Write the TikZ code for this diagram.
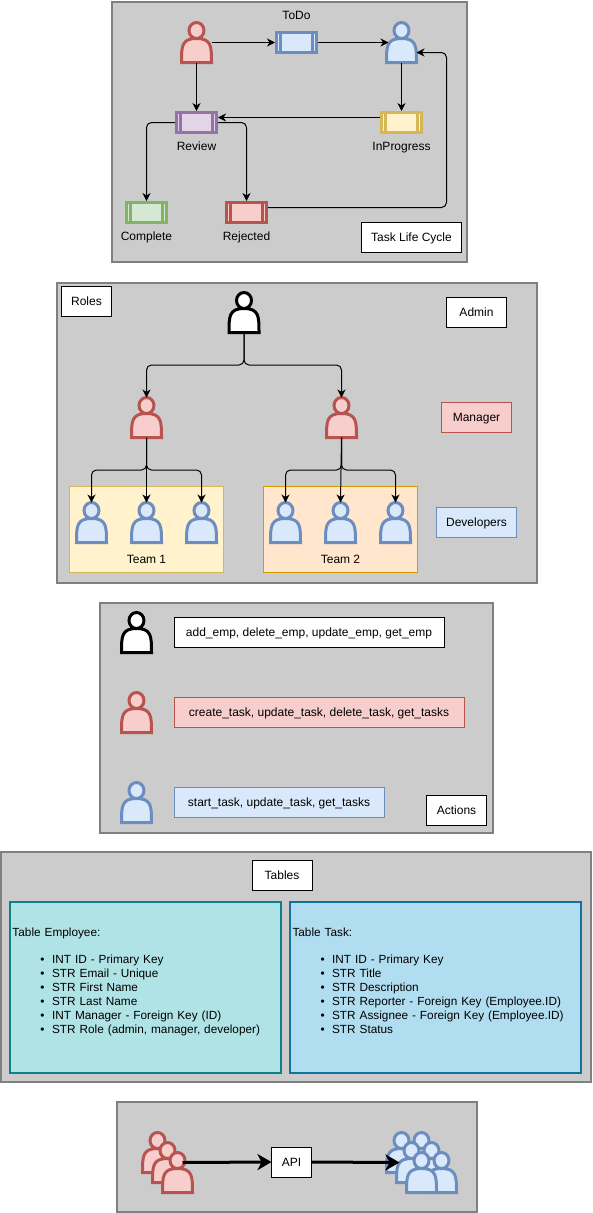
\documentclass[tikz,border=0pt]{standalone}
\usepackage{fontspec}
\setmainfont{Liberation Sans}
\usetikzlibrary{arrows.meta,positioning,calc}
\definecolor{redfill}{HTML}{F8CECC}
\definecolor{redline}{HTML}{B85450}
\definecolor{bluefill}{HTML}{DAE8FC}
\definecolor{blueline}{HTML}{6C8EBF}
\definecolor{greenfill}{HTML}{D5E8D4}
\definecolor{greenline}{HTML}{82B366}
\definecolor{purplefill}{HTML}{E1D5E7}
\definecolor{purpleline}{HTML}{9673A6}
\definecolor{yellowfill}{HTML}{FFF2CC}
\definecolor{yellowline}{HTML}{D6B656}
\definecolor{orangefill}{HTML}{FFE6CC}
\definecolor{orangeline}{HTML}{D79B00}
\definecolor{tealfill}{HTML}{B0E3E6}
\definecolor{tealline}{HTML}{0E8088}
\definecolor{skyfill}{HTML}{B1DDF0}
\definecolor{skyline}{HTML}{10739E}
\newcommand{\tableitem}[1]{\hspace*{28pt}\textbullet\hspace{7.5pt}#1}
\tikzset{
    %Define standard arrow tip
    >={Stealth[length=8pt,width=8pt,inset=2.5pt]},
    every node/.style={font=\fontsize{12}{14}\selectfont,inner sep=0pt,outer sep=0pt},
    %Define style for boxes
    panel/.style={
           draw=black!50,
           line width=2pt,
           fill=black!20},
    caption/.style={
           text height=11pt,
           text depth=2.4pt},
    labelbox/.style={
           caption,
           draw=black,
           line width=1pt,
           fill=white,
           minimum height=30pt},
    redbox/.style={labelbox,draw=redline,fill=redfill},
    bluebox/.style={labelbox,draw=blueline,fill=bluefill},
    team/.style={
           line width=1pt,
           minimum width=154pt,
           minimum height=86pt},
    tablebox/.style={
           font=\fontsize{11.8}{14}\selectfont,
           line width=2pt,
           minimum width=#1,
           text width=#1-5pt,
           minimum height=171pt,
           inner xsep=2.5pt,
           align=left},
    %Define task with side bars
    process/.style 2 args={
           draw=#1,
           fill=#2,
           line width=3pt,
           outer sep=1.5pt,
           minimum width=40pt,
           minimum height=20pt,
           path picture={
             \draw[#1,line width=3pt]
               ([xshift=4.1pt]path picture bounding box.north west) -- ([xshift=4.1pt]path picture bounding box.south west)
               ([xshift=-4.1pt]path picture bounding box.north east) -- ([xshift=-4.1pt]path picture bounding box.south east);
           }},
    %Define person
    actor/.style 2 args={
           minimum width=30pt,
           minimum height=40pt,
           append after command={\pgfextra{
             \draw[shift={(\tikzlastnode.center)},draw=#1,fill=#2,line width=3pt]
               (-15,20) .. controls (-15,4) and (-15,-4) .. (0,-4)
               .. controls (15,-4) and (15,4) .. (15,20) -- cycle
               (7.5,-12) arc[start angle=0,end angle=360,x radius=7.5pt,y radius=8pt];
           }}},
    admin/.style={actor={black}{white}},
    manager/.style={actor={redline}{redfill}},
    developer/.style={actor={blueline}{bluefill}},
    % Define arrow style
    flow/.style={
           ->,
           line width=1pt,
           rounded corners=5pt},
    bigflow/.style={
           -{Stealth[length=14pt,width=16pt,inset=4pt]},
           line width=3pt},
    branch/.style={
           to path={|- ($(\tikztostart)!.5!(\tikztotarget)$) -| (\tikztotarget)}}
}
\begin{document}
\begin{tikzpicture}[x=1pt,y=-1pt,node distance=5pt]
\useasboundingbox (0,0) rectangle (592,1213);
 %life cycle
\node[panel,minimum width=355pt,minimum height=260pt](lifepanel) at (289,132){};
\node[manager](reporter) at (196.5,42.5){};
\node[developer](assignee) at (401.5,42.5){};
\node[process={blueline}{bluefill}](todo) at (296.5,42.5){};
\node[process={purpleline}{purplefill}](review) at (196.5,122.5){};
\node[process={yellowline}{yellowfill}](inprogress) at (401.5,122.5){};
\node[process={greenline}{greenfill}](complete) at (146.5,212.5){};
\node[process={redline}{redfill}](rejected) at (246.5,212.5){};
\node[caption,above=9.6pt of todo](todolabel){ToDo};
\node[caption,below=of review](reviewlabel){Review};
\node[caption,below=of inprogress](inprogresslabel){InProgress};
\node[caption,below=of complete](completelabel){Complete};
\node[caption,below=of rejected](rejectedlabel){Rejected};
\node[labelbox,minimum width=100pt](lifelabel) at (411.5,237){Task Life Cycle};
\coordinate (back) at (446.5,52.5);
\path[flow]
    (reporter.east) edge (todo.west)
    (todo.east) edge ([xshift=2pt]assignee.west)
    (assignee.south) edge (inprogress.north)
    (reporter.south) edge (review.north)
    ([yshift=5pt]inprogress.west) edge ([yshift=5pt]review.east);
\draw[flow] (review.west) -| (complete.north);
\draw[flow] (review.east) -| (rejected.north);
\draw[flow] ([yshift=5pt]rejected.east) -| (back) -- ([yshift=-10pt]assignee.east);
 %roles
\node[panel,minimum width=480pt,minimum height=300pt](rolepanel) at (296.5,432.5){};
\node[labelbox,minimum width=50pt](roleslabel) at (86.5,301.5){Roles};
\node[labelbox,minimum width=60pt](adminlabel) at (476.5,312){Admin};
\node[redbox,minimum width=70pt](managerlabel) at (476.5,417){Manager};
\node[bluebox,minimum width=80pt](devlabel) at (476.5,522.5){Developers};
\node[team,draw=yellowline,fill=yellowfill](team1) at (146.5,529.5){};
\node[team,draw=orangeline,fill=orangefill](team2) at (340.5,529.5){};
\node[caption](team1label) at (146.5,559.5){Team 1};
\node[caption](team2label) at (340.5,559.5){Team 2};
\node[admin](boss) at (244,312.5){};
\node[manager](lead1) at (146.5,417.5){};
\node[manager](lead2) at (341.5,417.5){};
\foreach \n/\x in {a/91.5,b/146.5,c/201.5,d/285.5,e/340.5,f/395.5}
  \node[developer](dev\n) at (\x,522.5){};
\path[flow]
    (boss.south) edge[branch] (lead1.north) edge[branch] (lead2.north)
    (lead1.south) edge[branch] (deva.north) edge (devb.north) edge[branch] (devc.north)
    (lead2.south) edge[branch] (devd.north) edge (deve.north) edge[branch] (devf.north);
 %actions
\node[panel,minimum width=393pt,minimum height=230pt](actionpanel) at (296.5,717.5){};
\node[admin](adminactor) at (136.5,632.5){};
\node[manager](manageractor) at (136.5,712.5){};
\node[developer](devactor) at (136.5,802.5){};
\node[labelbox,minimum width=270pt](adminacts) at (309,632.5){add\_emp, delete\_emp, update\_emp, get\_emp};
\node[redbox,minimum width=290pt](manageracts) at (319,712.5){create\_task, update\_task, delete\_task, get\_tasks};
\node[bluebox,minimum width=210pt](devacts) at (279,802.5){start\_task, update\_task, get\_tasks};
\node[labelbox,minimum width=60pt](actionslabel) at (456.5,810.5){Actions};
 %tables
\node[panel,minimum width=590pt,minimum height=230pt](tablepanel) at (296,967){};
\node[labelbox,minimum width=60pt](tableslabel) at (282,875){Tables};
\node[tablebox=271pt,draw=tealline,fill=tealfill](employee) at (145.5,987.5){Table Employee:\\[13.3pt]
  \tableitem{INT ID - Primary Key}\\
  \tableitem{STR Email - Unique}\\
  \tableitem{STR First Name}\\
  \tableitem{STR Last Name}\\
  \tableitem{INT Manager - Foreign Key (ID)}\\
  \tableitem{STR Role (admin, manager, developer)}\\
  ~};
\node[tablebox=291pt,draw=skyline,fill=skyfill](task) at (435.5,987.5){Table Task:\\[13.3pt]
  \tableitem{INT ID - Primary Key}\\
  \tableitem{STR Title}\\
  \tableitem{STR Description}\\
  \tableitem{STR Reporter - Foreign Key (Employee.ID)}\\
  \tableitem{STR Assignee - Foreign Key (Employee.ID)}\\
  \tableitem{STR Status}\\
  ~};
 %api
\node[panel,minimum width=360pt,minimum height=110pt](apipanel) at (296.5,1157){};
\node[manager](sender1) at (157.5,1152.5){};
\node[manager](sender2) at (167.5,1162.5){};
\node[manager](sender3) at (177.5,1172.5){};
\foreach \n/\x/\y in {a/421.5/1152.5,b/401.5/1152.5,c/431.5/1162.5,d/411.5/1162.5,e/441.5/1172.5,f/421.5/1172.5}
  \node[developer](crowd\n) at (\x,\y){};
\node[labelbox,minimum width=40pt](api) at (291.5,1162){API};
\draw[bigflow] (sender2.east) -- (api.west);
\draw[bigflow] (api.east) -- ([xshift=3pt]crowdd.west);
\end{tikzpicture}
\end{document}
